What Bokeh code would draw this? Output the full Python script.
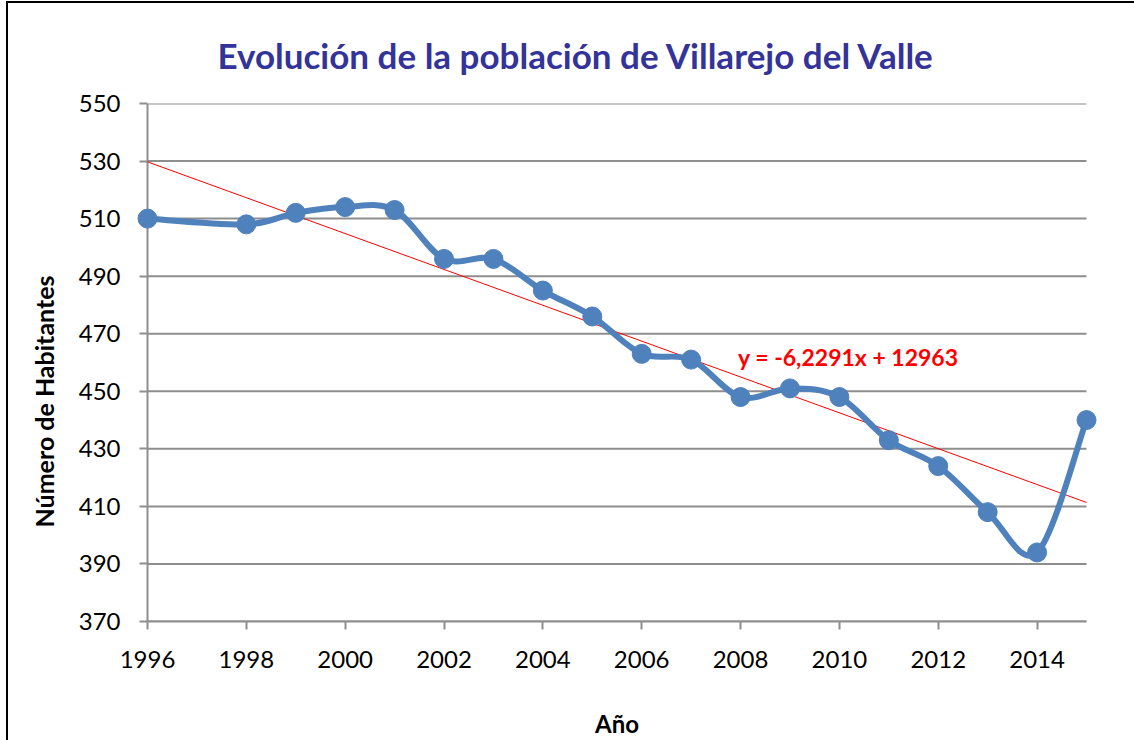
from bokeh.plotting import figure
from bokeh.models import FixedTicker, Range1d, Title
from bokeh.core.properties import value
from bokeh.embed import file_html
from bokeh.resources import INLINE

# ---- data ----
years = [1996, 1998, 1999, 2000, 2001, 2002, 2003, 2004, 2005, 2006,
         2007, 2008, 2009, 2010, 2011, 2012, 2013, 2014, 2015]
population = [510, 508, 512, 514, 513, 496, 496, 485, 476, 463,
              461, 448, 451, 448, 433, 424, 408, 394, 440]
x_ticks = [1996, 1998, 2000, 2002, 2004, 2006, 2008, 2010, 2012, 2014]
y_ticks = [370, 390, 410, 430, 450, 470, 490, 510, 530, 550]
trend_slope = -6.2291
trend_intercept = 12963
trend_label = "y = -6,2291x + 12963"

title_text = "Evolución de la población de Villarejo del Valle"
x_label = "Año"
y_label = "Número de Habitantes"

FONT = "Lato"
BLUE = "#4F81BD"
GRID = "#8E8E8E"

X0, X1 = years[0], years[-1]
Y0, Y1 = y_ticks[0], y_ticks[-1]
pad = 12 * (X1 - X0) / 939.0   # 12px of room so edge markers are not clipped

p = figure(width=1126, height=737, output_backend="svg", toolbar_location=None,
           x_range=Range1d(X0 - pad, X1 + pad), y_range=Range1d(Y0, Y1),
           min_border_left=127, min_border_right=36, min_border_top=100,
           min_border_bottom=119, title=title_text)
p.styles = {"outline": "2px solid black", "margin-left": "8px", "margin-top": "3px"}
p.outline_line_color = None
p.background_fill_color = "white"
p.border_fill_color = "white"

p.title.text_font = FONT
p.title.text_font_size = "35px"
p.title.text_font_style = "bold"
p.title.text_color = "#333399"
p.title.align = "left"
p.title.offset = 82
p.title.standoff = 55

# grid (drawn as segments spanning the category extent)
p.xgrid.grid_line_color = None
p.ygrid.grid_line_color = None
p.segment(x0=[X0] * len(y_ticks), y0=y_ticks, x1=[X1] * len(y_ticks), y1=y_ticks,
          line_color=GRID, line_width=2)
# vertical axis line at the first year
p.segment(x0=[X0], y0=[Y0], x1=[X0], y1=[Y1], line_color=GRID, line_width=2)

# axes
for ax in (p.xaxis[0], p.yaxis[0]):
    ax.axis_line_color = GRID
    ax.axis_line_width = 2
    ax.major_tick_line_color = GRID
    ax.major_tick_line_width = 2
    ax.major_tick_in = 0
    ax.major_tick_out = 8
    ax.minor_tick_line_color = None
    ax.major_label_text_font = FONT
    ax.major_label_text_font_size = "24px"
    ax.major_label_text_color = "black"
    ax.axis_label_text_font = FONT
    ax.axis_label_text_font_style = "bold"
    ax.axis_label_text_font_size = "24px"
    ax.axis_label_text_color = "black"

p.xaxis.ticker = FixedTicker(ticks=x_ticks)
p.yaxis.ticker = FixedTicker(ticks=y_ticks)
p.xaxis.bounds = (X0, X1)
p.yaxis.axis_line_color = None
p.yaxis.major_tick_in = 12
p.yaxis.major_tick_out = -4
p.xaxis.major_label_standoff = 21
p.yaxis.major_label_standoff = 15
p.xaxis.axis_label = x_label
p.xaxis.axis_label_standoff = 38

# y-axis title, placed like Excel's (centred on the chart area, not the plot frame)
ytitle = Title(text=y_label, align="left", offset=94, standoff=33,
               text_font=FONT, text_font_size="25px", text_font_style="bold",
               text_color="black")
p.add_layout(ytitle, "left")

# trend line
tx = [X0, X1]
ty = [trend_slope * x + trend_intercept for x in tx]
p.line(tx, ty, line_color="#FF0000", line_width=1)

# smoothed series line (Excel-style cubic Bezier through data points)
n = len(years)
x0s, y0s, x1s, y1s, cx0, cy0, cx1, cy1 = [], [], [], [], [], [], [], []
for i in range(n - 1):
    xa, ya = years[i], population[i]
    xb, yb = years[i + 1], population[i + 1]
    xp, yp = (years[i - 1], population[i - 1]) if i > 0 else (xa, ya)
    xn, yn = (years[i + 2], population[i + 2]) if i + 2 < n else (xb, yb)
    x0s.append(xa); y0s.append(ya); x1s.append(xb); y1s.append(yb)
    cx0.append(xa + (xb - xp) / 6.0); cy0.append(ya + (yb - yp) / 6.0)
    cx1.append(xb - (xn - xa) / 6.0); cy1.append(yb - (yn - ya) / 6.0)
p.bezier(x0=x0s, y0=y0s, x1=x1s, y1=y1s, cx0=cx0, cy0=cy0, cx1=cx1, cy1=cy1,
         line_color=BLUE, line_width=6, line_cap="round", level="overlay")

p.scatter(years, population, size=19, fill_color=BLUE, line_color=BLUE,
          level="overlay")

p.text(x=[2007.95], y=[462], text=[trend_label], text_color="#FF0000",
       text_font=value(FONT), text_font_style="bold", text_font_size="23px",
       text_align="left", text_baseline="middle", level="overlay")

open("out.html", "w").write(file_html(p, INLINE))
